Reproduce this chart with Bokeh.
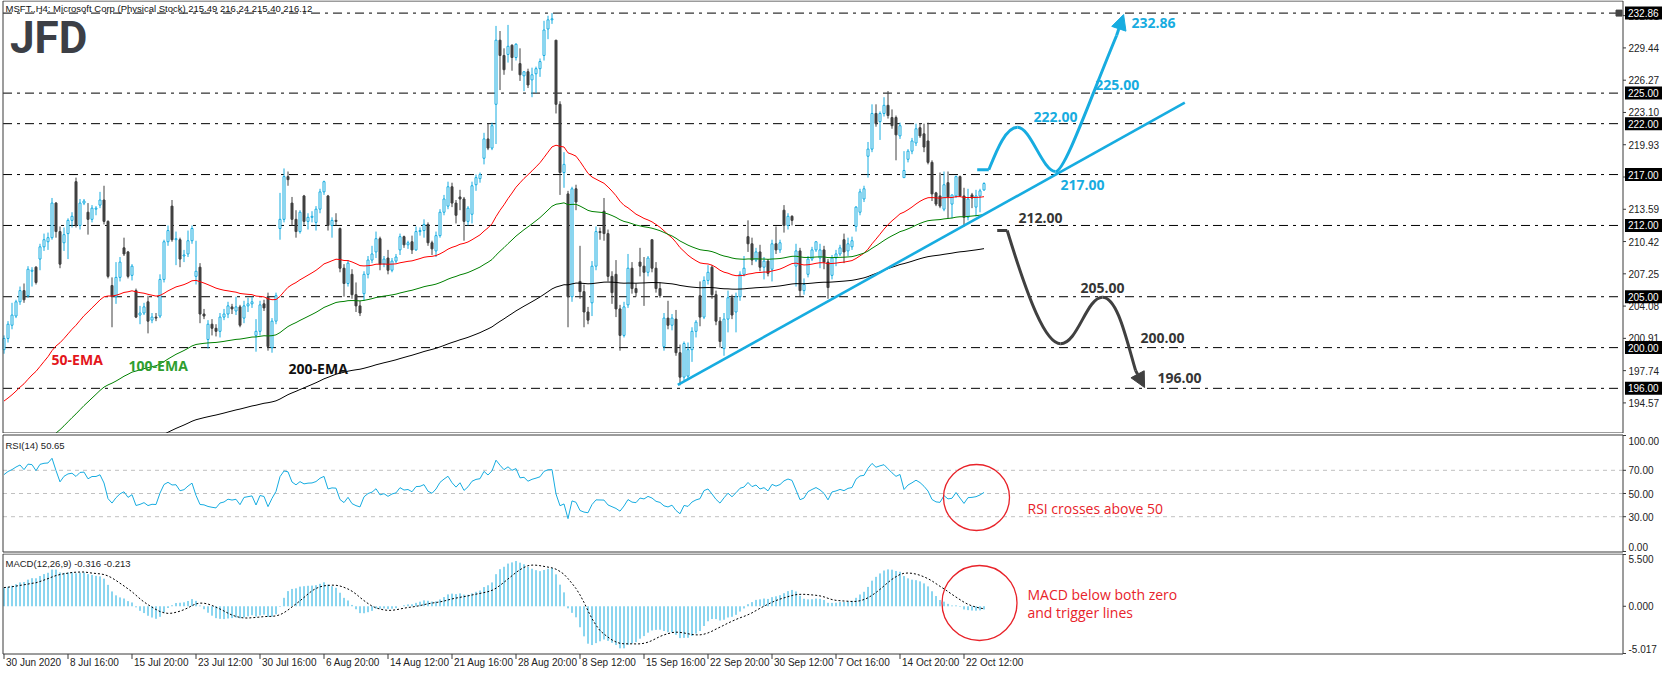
import numpy as np
from bokeh.plotting import figure
from bokeh.layouts import column
from bokeh.models import (Range1d, Label, Arrow, NormalHead, ColumnDataSource)
from bokeh.core.properties import value
from bokeh.embed import file_html
from bokeh.resources import INLINE

# ---------------- data (MSFT H4) ----------------
bar_open = [
    199.8, 200.9, 202.2, 203.1, 204.5, 205.6, 205.1, 207.5, 207.9, 208.7,
    209.9, 210.4, 210.8, 214.2, 211.4, 210.3, 211.2, 212.5, 216.3, 212.0,
    214.2, 213.3, 212.6, 213.6, 214.0, 214.5, 212.4, 206.1, 205.0, 206.9,
    209.8, 209.4, 207.1, 205.6, 203.2, 203.4, 204.5, 202.7, 203.0, 203.1,
    206.7, 210.4, 213.9, 210.6, 210.6, 209.0, 209.2, 210.5, 207.0, 207.9,
    203.3, 200.8, 202.3, 201.9, 201.6, 203.0, 203.3, 204.0, 203.6, 204.0,
    202.9, 204.1, 204.3, 201.2, 201.6, 204.3, 205.0, 200.0, 202.6, 211.7,
    212.6, 216.8, 214.2, 212.6, 211.4, 214.9, 212.4, 212.8, 212.3, 213.6,
    215.3, 214.9, 212.0, 212.5, 211.7, 207.8, 206.3, 207.2, 205.2, 204.1,
    205.3, 207.2, 208.6, 209.4, 210.7, 208.2, 208.8, 207.6, 208.5, 209.6,
    210.9, 210.1, 210.4, 209.6, 211.4, 211.5, 212.1, 210.3, 209.5, 211.0,
    213.3, 213.9, 215.8, 214.2, 214.8, 214.6, 212.4, 213.1, 216.0, 216.6,
    218.6, 220.5, 219.6, 223.9, 230.2, 228.7, 228.8, 229.7, 228.5, 227.9,
    226.7, 227.1, 226.3, 226.9, 227.4, 228.7, 231.3, 232.2, 230.2, 223.9,
    217.2, 215.1, 205.0, 215.6, 206.5, 205.5, 203.5, 204.4, 208.0, 211.4,
    213.4, 211.2, 207.0, 207.2, 203.8, 201.2, 204.2, 207.8, 205.8, 208.4,
    208.0, 207.4, 210.6, 207.8, 205.8, 200.1, 202.9, 202.2, 202.8, 199.5,
    197.1, 197.2, 199.8, 201.6, 205.1, 203.0, 206.6, 207.9, 205.2, 202.6,
    199.9, 202.8, 204.9, 203.5, 205.0, 207.2, 210.9, 210.2, 208.6, 209.4,
    207.9, 208.5, 207.7, 210.2, 209.6, 213.5, 212.0, 212.9, 208.0, 209.5,
    205.6, 207.2, 208.7, 209.6, 208.8, 209.6, 208.4, 207.1, 208.8, 209.2,
    210.6, 209.5, 209.9, 211.9, 213.3, 214.6, 218.8, 219.5, 223.0, 222.2,
    223.0, 223.8, 222.6, 222.6, 220.8, 216.7, 218.5, 219.3, 220.1, 221.6,
    221.0, 220.3, 218.2, 215.2, 214.9, 213.6, 216.2, 214.1, 214.9, 216.8,
    214.9, 212.8, 215.0, 213.8, 214.9, 215.49]

bar_high = [
    201.2, 202.6, 204.4, 204.7, 206.0, 206.3, 208.0, 207.9, 208.0, 210.2,
    211.2, 211.3, 214.7, 214.3, 211.9, 211.8, 212.7, 213.3, 216.7, 214.6,
    214.6, 214.2, 214.0, 213.9, 215.3, 215.9, 212.5, 206.9, 208.4, 208.9,
    210.8, 209.5, 208.2, 205.8, 204.1, 204.4, 205.1, 203.4, 203.4, 207.2,
    210.6, 212.0, 214.5, 211.4, 210.8, 209.6, 211.5, 212.0, 210.5, 208.3,
    203.8, 202.7, 202.8, 202.3, 203.4, 203.8, 204.5, 204.3, 205.0, 204.2,
    204.6, 204.9, 205.0, 202.8, 204.6, 204.7, 205.4, 202.9, 205.4, 215.2,
    217.6, 217.3, 214.8, 213.5, 213.5, 215.0, 213.2, 213.4, 213.9, 215.6,
    216.4, 215.0, 212.8, 213.2, 211.8, 208.2, 208.6, 207.7, 206.4, 204.6,
    207.5, 209.0, 210.0, 211.4, 210.9, 209.0, 209.6, 208.8, 209.2, 211.2,
    211.0, 210.5, 211.0, 211.9, 211.8, 212.6, 212.3, 210.5, 211.4, 213.6,
    215.0, 216.3, 216.2, 214.5, 215.5, 214.8, 213.9, 216.3, 217.0, 217.2,
    221.1, 222.0, 222.1, 231.6, 231.1, 229.4, 231.7, 229.8, 229.9, 229.4,
    227.1, 227.4, 227.5, 227.6, 228.4, 232.1, 232.6, 232.86, 230.2, 224.2,
    219.2, 215.4, 215.8, 216.0, 210.0, 206.2, 204.0, 208.5, 211.9, 211.8,
    214.7, 211.6, 207.5, 208.6, 204.2, 204.5, 209.2, 208.4, 206.3, 209.8,
    208.9, 209.0, 210.6, 208.4, 206.4, 203.4, 204.6, 203.3, 203.7, 200.3,
    200.6, 200.5, 202.0, 202.7, 206.5, 207.0, 208.1, 208.1, 205.6, 203.0,
    203.4, 205.6, 205.2, 205.4, 207.5, 209.0, 212.5, 210.8, 209.8, 210.1,
    208.9, 208.7, 210.6, 211.9, 210.6, 214.0, 213.2, 213.0, 210.2, 209.8,
    206.8, 209.0, 209.9, 210.4, 210.2, 210.0, 208.7, 209.1, 209.6, 210.1,
    211.2, 210.8, 210.9, 213.9, 215.6, 215.9, 220.2, 223.9, 223.9, 223.2,
    224.6, 225.2, 223.4, 222.8, 222.1, 219.3, 219.5, 220.6, 222.0, 222.0,
    222.0, 222.1, 218.4, 215.3, 217.2, 217.3, 217.3, 215.0, 216.9, 216.9,
    215.7, 215.6, 215.2, 215.5, 215.6, 216.24]

bar_low = [
    199.4, 200.5, 201.8, 202.9, 204.2, 204.4, 204.9, 206.0, 206.2, 207.6,
    209.5, 209.6, 210.6, 210.8, 207.8, 209.5, 208.7, 211.8, 211.8, 211.6,
    214.0, 211.1, 212.3, 213.0, 213.7, 212.1, 206.8, 202.0, 204.3, 206.5,
    209.0, 206.8, 206.6, 202.9, 202.3, 203.2, 201.4, 202.4, 202.6, 202.9,
    206.4, 210.0, 210.4, 208.1, 207.9, 208.4, 208.9, 210.2, 206.2, 202.4,
    202.8, 199.9, 201.2, 201.1, 201.0, 202.7, 202.9, 203.3, 203.2, 202.0,
    202.4, 203.5, 203.9, 199.6, 201.2, 203.6, 199.7, 199.5, 202.3, 210.6,
    212.3, 215.9, 212.0, 210.8, 211.2, 212.0, 211.6, 212.3, 211.5, 213.2,
    215.0, 211.5, 210.8, 212.0, 207.4, 205.0, 206.0, 204.8, 203.5, 203.1,
    204.6, 206.8, 208.3, 208.8, 207.6, 207.9, 207.2, 207.4, 208.3, 209.1,
    209.8, 209.7, 209.2, 209.5, 211.0, 210.8, 210.0, 209.1, 208.9, 210.8,
    213.0, 213.6, 213.8, 212.2, 213.5, 210.5, 212.0, 212.2, 215.4, 216.2,
    218.0, 219.4, 219.4, 220.0, 225.3, 226.8, 228.0, 227.2, 228.2, 226.2,
    225.2, 225.5, 224.6, 225.0, 226.6, 228.2, 230.3, 231.8, 223.0, 215.0,
    215.7, 202.0, 204.5, 213.5, 204.8, 202.0, 202.3, 203.1, 207.6, 210.6,
    210.5, 206.5, 204.3, 203.0, 199.7, 201.0, 203.9, 205.3, 205.0, 207.0,
    204.1, 207.0, 207.4, 205.4, 204.9, 199.7, 201.8, 201.7, 199.2, 196.3,
    196.8, 196.9, 198.6, 201.0, 202.1, 202.8, 206.2, 204.8, 202.2, 200.0,
    199.2, 201.5, 202.8, 201.5, 204.6, 207.0, 209.4, 208.1, 208.4, 207.5,
    206.7, 207.0, 206.5, 209.2, 209.3, 211.3, 211.6, 212.0, 206.0, 205.0,
    205.2, 206.9, 208.5, 209.4, 207.8, 207.7, 204.8, 206.7, 208.0, 209.0,
    208.3, 209.0, 209.6, 211.4, 213.0, 214.3, 216.7, 219.2, 221.7, 220.4,
    222.7, 222.5, 221.5, 218.4, 220.5, 216.7, 218.2, 219.0, 219.8, 220.6,
    219.2, 218.0, 214.4, 213.9, 213.7, 213.4, 212.7, 212.7, 214.7, 214.8,
    211.9, 212.5, 213.7, 212.9, 213.3, 215.40]

bar_close = [
    200.9, 202.3, 203.2, 204.5, 205.6, 204.7, 207.7, 207.6, 206.4, 209.9,
    210.6, 210.8, 214.2, 211.4, 208.2, 211.1, 212.5, 212.9, 212.0, 214.2,
    214.4, 212.6, 213.7, 213.7, 214.5, 212.4, 207.0, 205.0, 206.9, 208.4,
    209.2, 207.0, 208.0, 203.0, 203.4, 204.0, 202.6, 203.0, 202.9, 206.7,
    210.4, 211.5, 210.6, 210.7, 208.7, 209.1, 210.5, 211.7, 207.5, 203.3,
    203.1, 202.3, 201.9, 201.6, 203.0, 203.3, 204.1, 203.8, 204.0, 202.2,
    204.1, 204.3, 204.5, 201.6, 204.2, 203.9, 200.1, 202.6, 205.1, 212.6,
    216.8, 216.5, 212.6, 211.4, 213.3, 212.4, 212.8, 212.9, 213.6, 215.3,
    216.3, 212.0, 212.5, 212.4, 207.8, 206.3, 208.3, 205.2, 204.1, 203.4,
    207.2, 208.6, 209.2, 210.7, 208.2, 208.7, 207.6, 208.5, 208.9, 210.9,
    210.1, 210.3, 209.6, 211.4, 211.5, 212.1, 210.3, 209.7, 211.0, 213.3,
    214.6, 215.8, 214.2, 213.0, 214.6, 212.4, 213.7, 215.9, 216.7, 217.0,
    220.5, 219.6, 221.8, 230.2, 228.7, 227.3, 229.6, 228.5, 229.8, 226.8,
    227.1, 225.8, 226.8, 227.4, 228.1, 231.2, 232.2, 232.3, 223.9, 217.2,
    218.0, 205.0, 215.6, 214.3, 205.5, 203.5, 202.7, 208.0, 211.4, 211.3,
    211.2, 207.0, 205.4, 203.8, 201.2, 204.0, 207.8, 205.8, 205.4, 208.0,
    207.4, 208.8, 207.8, 205.8, 205.1, 202.9, 202.2, 202.9, 199.5, 197.1,
    200.4, 199.8, 201.6, 202.5, 203.0, 206.6, 207.4, 205.2, 202.6, 200.6,
    202.8, 204.9, 203.2, 205.0, 207.2, 207.8, 210.2, 208.6, 209.4, 207.9,
    208.5, 207.3, 210.2, 209.6, 210.3, 212.0, 212.9, 212.5, 209.5, 205.6,
    206.2, 208.7, 209.6, 210.4, 209.6, 208.4, 205.9, 208.8, 209.2, 209.8,
    209.4, 210.2, 210.5, 213.8, 215.3, 215.6, 219.5, 223.0, 222.0, 223.0,
    223.8, 222.8, 221.8, 220.9, 221.8, 217.4, 219.3, 220.3, 221.5, 220.8,
    219.7, 218.2, 215.1, 214.1, 213.9, 216.0, 214.8, 215.0, 216.8, 214.9,
    212.8, 214.6, 214.7, 214.9, 215.4, 216.12]

time_tick_bars = [0, 16, 32, 48, 64, 80, 96, 112, 128, 144, 160, 176, 192, 208, 224, 240]
time_tick_labels = ["30 Jun 2020", "8 Jul 16:00", "15 Jul 20:00", "23 Jul 12:00",
                    "30 Jul 16:00", "6 Aug 20:00", "14 Aug 12:00", "21 Aug 16:00",
                    "28 Aug 20:00", "8 Sep 12:00", "15 Sep 16:00", "22 Sep 20:00",
                    "30 Sep 12:00", "7 Oct 16:00", "14 Oct 20:00", "22 Oct 12:00"]

price_ticks = [194.57, 197.74, 200.91, 204.08, 207.25, 210.42, 213.59, 216.76,
               219.93, 223.10, 226.27, 229.44, 232.61]
level_prices = [232.86, 225.00, 222.00, 217.00, 212.00, 205.00, 200.00, 196.00]
rsi_ticks = [0, 30, 50, 70, 100]
rsi_levels = [30, 50, 70]
macd_ticks = [-5.017, 0.0, 5.5]

# indicator starting states (indicator values just before the first bar)
ema50_seed, ema100_seed, ema200_seed = 194.5, 186.5, 183.0
ema12_seed, ema26_seed = 199.2, 197.2
rsi_gain_seed, rsi_loss_seed, prev_close_seed = 0.8, 0.45, 199.8

# scenario annotations (bar index, price)
trend_x = [168.45, 295.2]
trend_y = [196.33, 224.06]

bull_flat_x = [243.3, 246.2]
bull_flat_y = [217.47, 217.47]
bull_bez = dict(x0=[246.2, 253.4, 262.9], y0=[217.47, 221.65, 217.3],
                cx0=[248.15, 256.65, 265.2], cy0=[219.36, 221.65, 217.3],
                cx1=[250.4, 259.65, 271.4], cy1=[221.65, 217.3, 224.3],
                x1=[253.4, 262.9, 278.15], y1=[221.65, 217.3, 230.66])
bull_tip = (279.9, 232.72)

bear_flat_x = [248.3, 250.8]
bear_flat_y = [211.5, 211.5]
bear_bez = dict(x0=[250.8, 264.15, 274.6], y0=[211.5, 200.38, 204.95],
                cx0=[256.15, 268.4, 278.4], cy0=[204.63, 200.38, 204.95],
                cx1=[260.4, 270.65, 280.65], cy1=[200.38, 204.95, 200.71],
                x1=[264.15, 274.6, 282.9], y1=[200.38, 204.95, 197.75])
bear_tip = (285.15, 196.08)

bull_labels = [("232.86", 281.9, 231.84), ("225.00", 272.8, 225.75),
               ("222.00", 257.4, 222.70), ("217.00", 264.15, 216.02)]
bear_labels = [("212.00", 253.65, 212.78), ("205.00", 269.15, 205.81),
               ("200.00", 284.15, 200.90), ("196.00", 288.4, 196.97)]

# ---------------- indicators ----------------
closes = np.array(bar_close)


def ema(vals, period, seed):
    k = 2.0 / (period + 1)
    e = seed
    out = []
    for v in vals:
        e = e + k * (v - e)
        out.append(e)
    return np.array(out)


def rsi(vals, n, g0, l0, prev0):
    ag, al, prev = g0, l0, prev0
    out = []
    for v in vals:
        ch = v - prev
        prev = v
        ag = (ag * (n - 1) + max(ch, 0.0)) / n
        al = (al * (n - 1) + max(-ch, 0.0)) / n
        out.append(100.0 - 100.0 / (1.0 + ag / al) if al > 0 else 100.0)
    return np.array(out)


ema50 = ema(closes, 50, ema50_seed)
ema100 = ema(closes, 100, ema100_seed)
ema200 = ema(closes, 200, ema200_seed)
rsi14 = rsi(closes, 14, rsi_gain_seed, rsi_loss_seed, prev_close_seed)
macd_main = ema(closes, 12, ema12_seed) - ema(closes, 26, ema26_seed)
macd_signal = np.array([macd_main[max(0, i - 8):i + 1].mean() for i in range(len(macd_main))])

# ---------------- layout / styling ----------------
CYAN = "#17ace0"
DARK = "#404040"
FRAME = "#3a3a3a"
RED = "#e8232a"
SMALL = "9.5px"
AXFONT = "10px"
SFONT = "Liberation Sans"
W = 1670

n = len(bar_close)
xi = np.arange(n)
o = np.array(bar_open); h = np.array(bar_high); l = np.array(bar_low); c = closes
up = c >= o


def bx(px):          # horizontal pixel -> bar coordinate (bar i sits at pixel 3.5 + 4 i)
    return (px - 3.5) / 4.0


XR = Range1d(bx(0), bx(W))
X_LEFT = bx(2.5)
X_AX = bx(1622.5)
X_TICK = bx(1625.5)
X_LAB = bx(1628)


def make_fig(height, y_range):
    p = figure(width=W, height=height, x_range=XR, y_range=y_range,
               output_backend="svg", toolbar_location=None,
               x_axis_location=None, y_axis_location=None,
               min_border_left=0, min_border_right=0,
               min_border_top=0, min_border_bottom=0)
    p.grid.visible = False
    p.outline_line_color = None
    p.background_fill_color = "white"
    p.border_fill_color = "white"
    return p


def panel_box(p, ytop, ybot):
    p.segment(x0=[X_LEFT, X_LEFT, X_LEFT, X_AX], y0=[ytop, ybot, ybot, ybot],
              x1=[X_AX, X_AX, X_LEFT, X_AX], y1=[ytop, ybot, ytop, ytop],
              line_color=FRAME, line_width=1)


def right_axis(p, ticks, tick_text_pos, texts):
    p.segment(x0=[X_AX] * len(ticks), y0=ticks, x1=[X_TICK] * len(ticks), y1=ticks,
              line_color=FRAME, line_width=1)
    p.text(x=[X_LAB] * len(texts), y=tick_text_pos, text=texts,
           text_font=value(SFONT), text_font_size=value(AXFONT), text_color="#222222",
           text_align="left", text_baseline="middle")


def label(p, x, y, text, color="#222222", size=SMALL, font=SFONT, style="normal"):
    p.add_layout(Label(x=x, y=y, text=text, text_color=color, text_font=font,
                       text_font_size=size, text_font_style=style, text_align="left",
                       text_baseline="middle"))


# ---------------- main price panel (canvas rows 0..432) ----------------
PX_PER_USD = 10.18
def py1(px):
    return 234.0 - (px - 1.0) / PX_PER_USD

p1 = make_fig(433, Range1d(py1(433), py1(0)))

p1.segment(x0=[X_LEFT] * len(level_prices), y0=level_prices,
           x1=[X_AX] * len(level_prices), y1=level_prices,
           line_color="black", line_width=1, line_dash="9 5 3 5")

src_up = ColumnDataSource(dict(x=xi[up], o=o[up], h=h[up], l=l[up], c=c[up]))
src_dn = ColumnDataSource(dict(x=xi[~up], o=o[~up], h=h[~up], l=l[~up], c=c[~up]))
p1.segment(x0="x", y0="l", x1="x", y1="h", source=src_up, line_color=CYAN, line_width=1)
p1.segment(x0="x", y0="l", x1="x", y1="h", source=src_dn, line_color=DARK, line_width=1)
p1.vbar(x="x", width=0.5, bottom="o", top="c", source=src_up,
        fill_color="white", line_color=CYAN, line_width=1)
p1.vbar(x="x", width=0.5, bottom="c", top="o", source=src_dn,
        fill_color=DARK, line_color=DARK, line_width=1)

p1.line(xi, ema50, line_color="#ff0000", line_width=1)
p1.line(xi, ema100, line_color="#008000", line_width=1)
p1.line(xi, ema200, line_color="#000000", line_width=1)

# trend line and scenarios
p1.line(trend_x, trend_y, line_color=CYAN, line_width=2.6)
p1.line(bull_flat_x, bull_flat_y, line_color=CYAN, line_width=3)
p1.bezier(line_color=CYAN, line_width=3, **bull_bez)
p1.add_layout(Arrow(end=NormalHead(size=15, fill_color=CYAN, line_color=CYAN),
                    x_start=bull_bez["x1"][-1], y_start=bull_bez["y1"][-1],
                    x_end=bull_tip[0], y_end=bull_tip[1],
                    line_color=CYAN, line_width=3))
p1.line(bear_flat_x, bear_flat_y, line_color=DARK, line_width=3)
p1.bezier(line_color=DARK, line_width=3, **bear_bez)
p1.add_layout(Arrow(end=NormalHead(size=15, fill_color=DARK, line_color=DARK),
                    x_start=bear_bez["x1"][-1], y_start=bear_bez["y1"][-1],
                    x_end=bear_tip[0], y_end=bear_tip[1],
                    line_color=DARK, line_width=3))

for t, x, y in bull_labels:
    label(p1, x, y, t, color=CYAN, size="14px", font="Open Sans", style="bold")
for t, x, y in bear_labels:
    label(p1, x, y, t, color="#363636", size="14px", font="Open Sans", style="bold")

label(p1, 11.9, 198.83, "50-EMA", color="#e3151a", size="14px", font="Open Sans", style="bold")
label(p1, 31.15, 198.24, "100-EMA", color="#2f9e2f", size="14px", font="Open Sans", style="bold")
label(p1, 71.15, 197.95, "200-EMA", color="#111111", size="14px", font="Open Sans", style="bold")

label(p1, 0.4, py1(8),
      "MSFT.,H4:  Microsoft Corp (Physical Stock)  215.49 216.24 215.40 216.12",
      color="#111111")
label(p1, 1.5, py1(37), "JFD", color="#3c3f46", size="44px", font="Roboto", style="bold")

p1.scatter(x=[bx(1618.5)], y=[level_prices[0]], marker="square", size=6,
           fill_color="#444444", line_color="#444444")

panel_box(p1, py1(0.5), py1(432.5))
right_axis(p1, price_ticks, price_ticks, ["%.2f" % t for t in price_ticks])
# highlighted level boxes on the price scale
p1.rect(x=[bx(1643)] * len(level_prices), y=level_prices, width=37, height=13,
        width_units="screen", height_units="screen", fill_color="black", line_color=None)
p1.text(x=[bx(1627.5)] * len(level_prices), y=level_prices,
        text=["%.2f" % v for v in level_prices], text_font=value(SFONT),
        text_font_size=value(AXFONT), text_color="white", text_align="left",
        text_baseline="middle")

# ---------------- RSI panel (canvas rows 433..552) ----------------
RSI_PX = 1.16
def py2(px):
    return 100.0 - (px - 2.0) / RSI_PX

p2 = make_fig(120, Range1d(py2(120), py2(0)))
p2.segment(x0=[X_LEFT] * 3, y0=rsi_levels, x1=[X_AX] * 3, y1=rsi_levels,
           line_color="#c0c0c0", line_width=1, line_dash="4 4")
p2.line(xi, rsi14, line_color=CYAN, line_width=1)
p2.scatter(x=[bx(976)], y=[py2(64)], marker="circle", size=66, fill_color=None,
           line_color=RED, line_width=1.3)
label(p2, bx(1027), py2(75), "RSI crosses above 50", color=RED, size="14px", font="Open Sans")
label(p2, bx(5), py2(12), "RSI(14) 50.65", color="#222222")
panel_box(p2, py2(1.5), py2(118.5))
right_axis(p2, rsi_ticks, [py2(113), 30, 50, 70, py2(7)], ["%.2f" % t for t in rsi_ticks])

# ---------------- MACD panel (canvas rows 553..672) ----------------
MACD_PX = 99.0 / (macd_ticks[-1] - macd_ticks[0])
def py3(px):
    return macd_ticks[-1] - (px - 1.0) / MACD_PX

p3 = make_fig(120, Range1d(py3(120), py3(0)))
p3.segment(x0=xi, y0=np.zeros(n), x1=xi, y1=macd_main, line_color=CYAN, line_width=1)
p3.line(xi, macd_signal, line_color="black", line_width=1, line_dash="2 2")
p3.scatter(x=[bx(979)], y=[py3(49.5)], marker="circle", size=75, fill_color=None,
           line_color=RED, line_width=1.3)
label(p3, bx(1027), py3(41), "MACD below both zero", color=RED, size="14px", font="Open Sans")
label(p3, bx(1027), py3(59), "and trigger lines", color=RED, size="14px", font="Open Sans")
label(p3, bx(5), py3(10), "MACD(12,26,9) -0.316 -0.213", color="#222222")
panel_box(p3, py3(0.5), py3(100.5))
right_axis(p3, macd_ticks, [py3(95), 0.0, py3(5)], ["%.3f" % t for t in macd_ticks])

# time axis
p3.segment(x0=time_tick_bars, y0=[py3(100.5)] * len(time_tick_bars),
           x1=time_tick_bars, y1=[py3(105.5)] * len(time_tick_bars),
           line_color=FRAME, line_width=1)
p3.text(x=[b + 0.5 for b in time_tick_bars], y=[py3(109)] * len(time_tick_bars),
        text=time_tick_labels, text_font=value(SFONT), text_font_size=value(AXFONT),
        text_color="#222222", text_align="left", text_baseline="middle")

layout = column(p1, p2, p3, spacing=0)
open("out.html", "w").write(file_html(layout, INLINE, title="MSFT H4"))
